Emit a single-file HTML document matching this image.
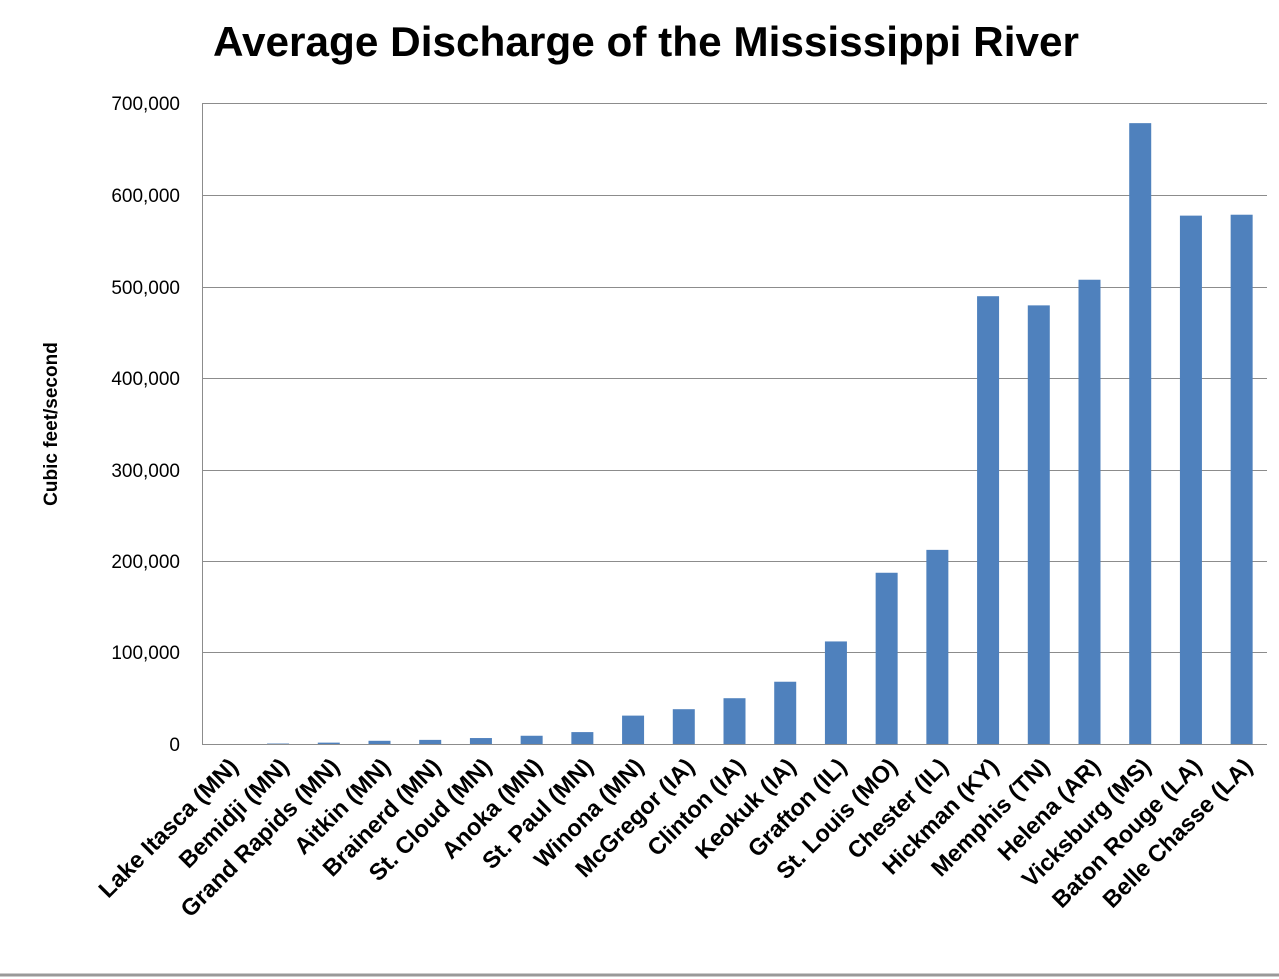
<!DOCTYPE html>
<html><head><meta charset="utf-8"><style>
html,body{margin:0;padding:0;background:#fff;}
svg{display:block;font-family:"Liberation Sans",sans-serif;}
</style></head><body>
<svg width="1279" height="979" viewBox="0 0 1279 979">
<text x="646" y="56" text-anchor="middle" font-size="42" font-weight="bold" fill="#000" textLength="866" lengthAdjust="spacingAndGlyphs">Average Discharge of the Mississippi River</text>
<g stroke="#8c8c8c" stroke-width="1">
<line x1="202" y1="103.5" x2="1267" y2="103.5"/>
<line x1="202" y1="195.5" x2="1267" y2="195.5"/>
<line x1="202" y1="287.5" x2="1267" y2="287.5"/>
<line x1="202" y1="378.5" x2="1267" y2="378.5"/>
<line x1="202" y1="470.5" x2="1267" y2="470.5"/>
<line x1="202" y1="561.5" x2="1267" y2="561.5"/>
<line x1="202" y1="652.5" x2="1267" y2="652.5"/>
<line x1="202" y1="744.5" x2="1267" y2="744.5"/>
<line x1="202.5" y1="103" x2="202.5" y2="744"/>
</g>
<g font-size="19" fill="#000" text-anchor="end">
<text x="180" y="110">700,000</text>
<text x="180" y="202">600,000</text>
<text x="180" y="294">500,000</text>
<text x="180" y="385">400,000</text>
<text x="180" y="477">300,000</text>
<text x="180" y="568">200,000</text>
<text x="180" y="659">100,000</text>
<text x="180" y="751">0</text>
</g>
<text transform="translate(57,424) rotate(-90)" text-anchor="middle" font-size="19" font-weight="bold">Cubic feet/second</text>
<g fill="#4f81bd" id="bars"></g>
<g id="labels" font-size="23.5" font-weight="bold" fill="#000"></g>
<line x1="0" y1="975" x2="1279" y2="975" stroke="#999" stroke-width="3"/>
<script>
var names=["Lake Itasca (MN)","Bemidji (MN)","Grand Rapids (MN)","Aitkin (MN)","Brainerd (MN)","St. Cloud (MN)","Anoka (MN)","St. Paul (MN)","Winona (MN)","McGregor (IA)","Clinton (IA)","Keokuk (IA)","Grafton (IL)","St. Louis (MO)","Chester (IL)","Hickman (KY)","Memphis (TN)","Helena (AR)","Vicksburg (MS)","Baton Rouge (LA)","Belle Chasse (LA)"];
var vals=[0,500,1500,3500,4500,6500,9000,13000,31000,38000,50000,68000,112000,187000,212000,489000,479000,507000,678000,577000,578000];
var ns="http://www.w3.org/2000/svg",b=document.getElementById("bars"),l=document.getElementById("labels");
var w=1065/21;
for(var i=0;i<21;i++){var cx=202+w*(i+0.5);var h=vals[i]*641/700000;
var r=document.createElementNS(ns,"rect");r.setAttribute("x",cx-11);r.setAttribute("y",744-h);r.setAttribute("width",22);r.setAttribute("height",h);b.appendChild(r);
var t=document.createElementNS(ns,"text");t.setAttribute("text-anchor","end");t.setAttribute("transform","translate("+(cx+12)+",768) rotate(-45)");t.textContent=names[i];l.appendChild(t);}
</script>
</svg>
</body></html>
